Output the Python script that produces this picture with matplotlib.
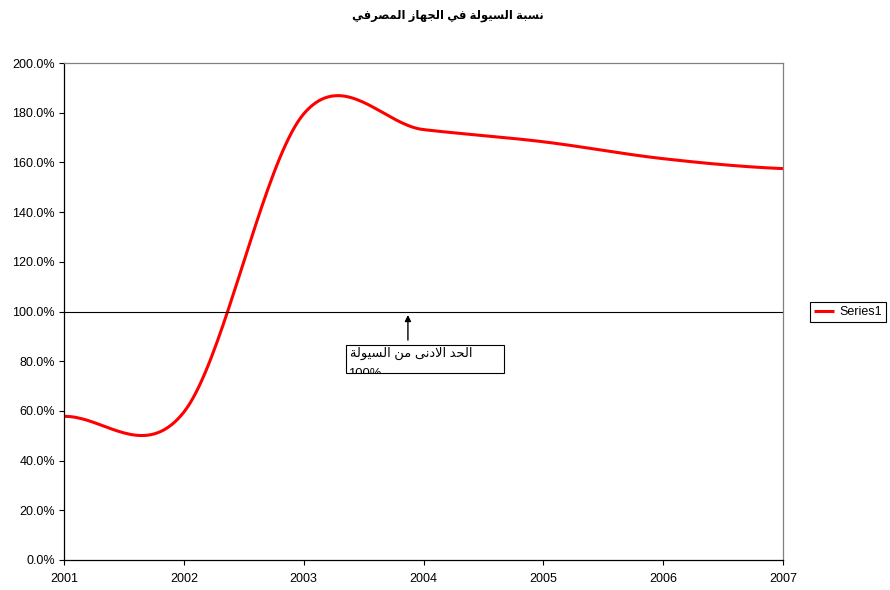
import numpy as np
import matplotlib
matplotlib.use('Agg')
import matplotlib.pyplot as plt
from matplotlib.patches import Rectangle
from matplotlib.transforms import Bbox, TransformedBbox

years = [2001, 2002, 2003, 2004, 2005, 2006, 2007]
liquidity = [57.8, 59.5, 179.5, 173.2, 168.3, 161.5, 157.5]   # percent
min_level = 100.0

title_text = 'نسبة السيولة في الجهاز المصرفي'
note_text = 'الحد الادنى من السيولة'
note_value = '100%'
series_name = 'Series1'

# Arabic contextual forms (isolated, final, initial, medial)
FORMS = {
    'ا': (0xFE8D, 0xFE8E, None, None),
    'ب': (0xFE8F, 0xFE90, 0xFE91, 0xFE92),
    'ة': (0xFE93, 0xFE94, None, None),
    'ج': (0xFE9D, 0xFE9E, 0xFE9F, 0xFEA0),
    'ح': (0xFEA1, 0xFEA2, 0xFEA3, 0xFEA4),
    'د': (0xFEA9, 0xFEAA, None, None),
    'ر': (0xFEAD, 0xFEAE, None, None),
    'ز': (0xFEAF, 0xFEB0, None, None),
    'س': (0xFEB1, 0xFEB2, 0xFEB3, 0xFEB4),
    'ص': (0xFEB9, 0xFEBA, 0xFEBB, 0xFEBC),
    'ف': (0xFED1, 0xFED2, 0xFED3, 0xFED4),
    'ل': (0xFEDD, 0xFEDE, 0xFEDF, 0xFEE0),
    'م': (0xFEE1, 0xFEE2, 0xFEE3, 0xFEE4),
    'ن': (0xFEE5, 0xFEE6, 0xFEE7, 0xFEE8),
    'ه': (0xFEE9, 0xFEEA, 0xFEEB, 0xFEEC),
    'و': (0xFEED, 0xFEEE, None, None),
    'ى': (0xFEEF, 0xFEF0, 0xFBE8, 0xFBE9),
    'ي': (0xFEF1, 0xFEF2, 0xFEF3, 0xFEF4),
}


def joins_next(c):
    return c in FORMS and FORMS[c][2] is not None


def shape_arabic(text):
    """Pick joined letter forms and reverse into visual order (no bidi in Agg)."""
    out = []
    i, n = 0, len(text)
    while i < n:
        c = text[i]
        if c not in FORMS:
            out.append(c)
            i += 1
            continue
        link_prev = i > 0 and joins_next(text[i - 1])
        if c == 'ل' and i + 1 < n and text[i + 1] == 'ا':
            out.append(chr(0xFEFC if link_prev else 0xFEFB))
            i += 2
            continue
        link_next = joins_next(c) and i + 1 < n and text[i + 1] in FORMS
        iso, fin, ini, med = FORMS[c]
        if link_prev and link_next:
            g = med
        elif link_prev:
            g = fin
        elif link_next:
            g = ini
        else:
            g = iso
        out.append(chr(g))
        i += 1
    return ''.join(reversed(out))


def smooth(x, y, per_seg=40):
    # cardinal (Catmull-Rom) spline, like a spreadsheet "smoothed line"
    x = np.asarray(x, float)
    y = np.asarray(y, float)
    n = len(x)
    m = np.zeros(n)
    m[1:-1] = (y[2:] - y[:-2]) / 2
    m[0] = (y[1] - y[0]) / 2
    m[-1] = (y[-1] - y[-2]) / 2
    xs, ys = [], []
    t = np.linspace(0, 1, per_seg, endpoint=False)
    for k in range(n - 1):
        h00 = 2 * t**3 - 3 * t**2 + 1
        h10 = t**3 - 2 * t**2 + t
        h01 = -2 * t**3 + 3 * t**2
        h11 = t**3 - t**2
        xs.append(x[k] + t * (x[k + 1] - x[k]))
        ys.append(h00 * y[k] + h10 * m[k] + h01 * y[k + 1] + h11 * m[k + 1])
    xs.append([x[-1]])
    ys.append([y[-1]])
    return np.concatenate(xs), np.concatenate(ys)


plt.rcParams['font.family'] = ['Liberation Sans', 'DejaVu Sans']
plt.rcParams['font.size'] = 9

fig = plt.figure(figsize=(8.9, 5.9), dpi=100)
ax = fig.add_axes([64 / 890, 1 - 560 / 590, (783 - 64) / 890, (560 - 63) / 590])

sx, sy = smooth(years, liquidity)
line, = ax.plot(sx, sy, color='#FF0000', lw=2.2, solid_capstyle='butt', label=series_name)
ax.axhline(min_level, color='black', lw=0.8)

ax.set_xlim(years[0], years[-1])
ax.set_ylim(0, 200)
ax.set_xticks(years)
ax.set_xticklabels([str(y) for y in years])
ax.set_yticks(np.arange(0, 201, 20))
ax.set_yticklabels(['%.1f%%' % v for v in np.arange(0, 201, 20)])
ax.tick_params(length=3.5, width=0.8, color='black', labelsize=9)
ax.tick_params(axis='x', pad=5.5)
ax.tick_params(axis='y', pad=3)

for side in ('left', 'bottom'):
    ax.spines[side].set_color('black')
    ax.spines[side].set_linewidth(0.9)
for side in ('top', 'right'):
    ax.spines[side].set_color('#808080')
    ax.spines[side].set_linewidth(0.9)

# note box under the 100% line; second line runs past the box edge
bx0, bx1 = 2003.353, 2004.672
by0, by1 = 75.2, 86.5
box = Rectangle((bx0, by0), bx1 - bx0, by1 - by0, facecolor='white',
                edgecolor='black', lw=0.8, zorder=4)
ax.add_patch(box)
clip = TransformedBbox(Bbox([[bx0, by0], [bx1, by1]]), ax.transData)
t1 = ax.text(bx0 + 0.035, 85.6, shape_arabic(note_text), ha='left', va='top',
             fontsize=9.4, zorder=5)
t2 = ax.text(bx0 + 0.02, 77.4, note_value, ha='left', va='top',
             fontsize=9.4, zorder=5)
for t in (t1, t2):
    t.set_clip_box(clip)
    t.set_clip_on(True)

ax.annotate('', xy=(2003.87, 98.6), xytext=(2003.87, 88.5),
            arrowprops=dict(arrowstyle='-|>', color='black', lw=1,
                            mutation_scale=9, shrinkA=0, shrinkB=0))

fig.text(448 / 890, 1 - 16 / 590, shape_arabic(title_text), ha='center', va='center',
         fontsize=8.3, fontweight='bold')

leg = fig.legend(handles=[line], loc='center left',
                 bbox_to_anchor=(810 / 890, 1 - 312 / 590), fancybox=False,
                 edgecolor='black', framealpha=1, fontsize=9, handlelength=1.6,
                 borderpad=0.3, handletextpad=0.45, borderaxespad=0)
leg.get_frame().set_linewidth(0.8)

fig.savefig('out.png', dpi=100)
